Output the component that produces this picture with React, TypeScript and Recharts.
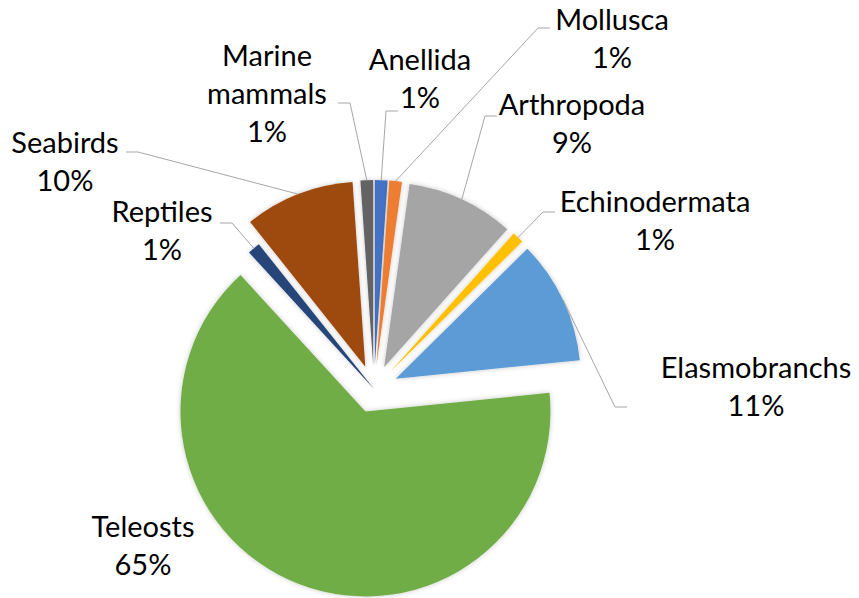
import { PieChart, Pie, Cell } from 'recharts';

// ---------------------------------------------------------------------------
// Data (share of records per taxon, %)
// ---------------------------------------------------------------------------

const CATEGORIES = [
  'Anellida',
  'Mollusca',
  'Arthropoda',
  'Echinodermata',
  'Elasmobranchs',
  'Teleosts',
  'Reptiles',
  'Seabirds',
  'Marine mammals',
];
const SHARES = [1.1, 1.1, 9.4, 1.0, 10.8, 64.8, 1.1, 9.6, 1.1];

const COLORS = [
  '#4472c4',
  '#ed7d31',
  '#a5a5a5',
  '#ffc000',
  '#5b9bd5',
  '#70ad47',
  '#264478',
  '#9e480e',
  '#636363',
];

// explosion distance of each slice, px (Reptiles sits in place)
const EXPLODE = [24, 24, 24, 24, 24, 24, 0, 24, 24];

// label anchors: text centre x, first baseline y, leader elbow points
const LABELS: { x: number; y: number; line: [number, number][] }[] = [
  { x: 420, y: 70, line: [[398, 111], [386, 111]] },
  { x: 612, y: 30, line: [[550, 28], [538, 28]] },
  { x: 572, y: 115, line: [[497, 116], [485, 116]] },
  { x: 655, y: 212, line: [[555, 212], [543, 212]] },
  { x: 756, y: 378, line: [[627, 407], [615, 407]] },
  { x: 143, y: 537, line: [] },
  { x: 162, y: 222, line: [[220, 223], [232, 223]] },
  { x: 65, y: 153, line: [[126, 152], [138, 152]] },
  { x: 267, y: 66, line: [[338, 103], [350, 103]] },
];

const W = 859;
const H = 598;
const CX = 374;
const CY = 389;
const R = 185;
const RADIAN = Math.PI / 180;
const LINE_H = 38;
const FONT = 'Lato, "Open Sans", sans-serif';

const data = CATEGORIES.map((name, i) => ({ name, value: SHARES[i] }));
const total = SHARES.reduce((a, b) => a + b, 0);

// mid angle of each slice in recharts degrees (start 90, clockwise)
const midAngles = SHARES.map((v, i) => {
  const before = SHARES.slice(0, i).reduce((a, b) => a + b, 0);
  return 90 - (360 * (before + v / 2)) / total;
});

function SliceLabel(props: any) {
  const { cx, cy, midAngle, outerRadius, percent, index, name } = props;
  const lay = LABELS[index];
  if (!lay) return null;
  const r = outerRadius + EXPLODE[index];
  const ex = cx + r * Math.cos(-midAngle * RADIAN);
  const ey = cy + r * Math.sin(-midAngle * RADIAN);
  const lines = [...String(name).split(' '), `${Math.round(percent * 100)}%`];
  const pts = lay.line.length ? [...lay.line, [ex, ey]] : [];

  return (
    <g>
      {pts.length > 0 && (
        <polyline
          points={pts.map((p) => p.join(',')).join(' ')}
          fill="none"
          stroke="#a6a6a6"
          strokeWidth={1}
        />
      )}
      <text
        x={lay.x}
        y={lay.y}
        textAnchor="middle"
        fill="#000"
        fontSize={29}
        fontFamily={FONT}
      >
        {lines.map((t, k) => (
          <tspan key={k} x={lay.x} y={lay.y + k * LINE_H}>
            {t}
          </tspan>
        ))}
      </text>
    </g>
  );
}

export default function App() {
  return (
    <div
      style={{
        position: 'absolute',
        left: 0,
        top: 0,
        width: W,
        height: H,
        background: '#fff',
      }}
    >
      <PieChart width={W} height={H} margin={{ top: 0, right: 0, bottom: 0, left: 0 }}>
        <defs>
          <filter id="glow" x="-20%" y="-20%" width="140%" height="140%">
            <feDropShadow dx="0" dy="0" stdDeviation="2.5" floodColor="#000" floodOpacity="0.22" />
          </filter>
        </defs>

        {/* one pie per slice, each shifted out along its own bisector */}
        {CATEGORIES.map((_, j) => (
          <Pie
            key={j}
            data={data}
            dataKey="value"
            nameKey="name"
            cx={CX + EXPLODE[j] * Math.cos(-midAngles[j] * RADIAN)}
            cy={CY + EXPLODE[j] * Math.sin(-midAngles[j] * RADIAN)}
            outerRadius={R}
            startAngle={90}
            endAngle={-270}
            stroke="none"
            isAnimationActive={false}
          >
            {data.map((_, i) => (
              <Cell
                key={i}
                fill={i === j ? COLORS[i] : 'none'}
                stroke="none"
                filter={i === j ? 'url(#glow)' : undefined}
              />
            ))}
          </Pie>
        ))}

        {/* label layer */}
        <Pie
          data={data}
          dataKey="value"
          nameKey="name"
          cx={CX}
          cy={CY}
          outerRadius={R}
          startAngle={90}
          endAngle={-270}
          fill="none"
          stroke="none"
          label={<SliceLabel />}
          labelLine={false}
          isAnimationActive={false}
        >
          {data.map((_, i) => (
            <Cell key={i} fill="none" stroke="none" />
          ))}
        </Pie>
      </PieChart>
    </div>
  );
}
